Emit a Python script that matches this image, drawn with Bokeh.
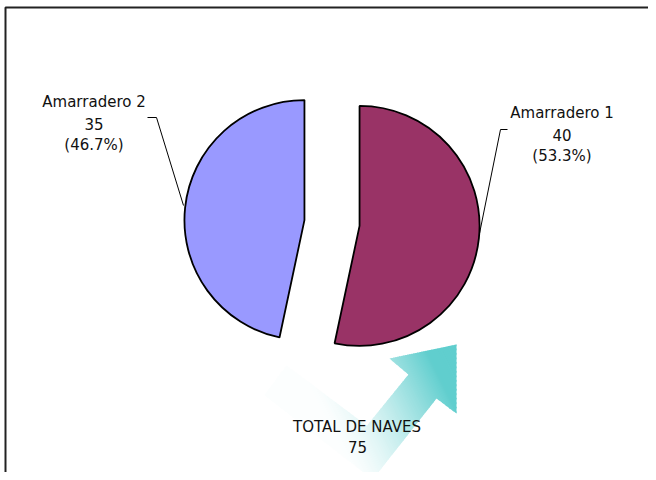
import math
from bokeh.plotting import figure
from bokeh.models import Range1d, ColumnDataSource
from bokeh.core.properties import value
from bokeh.embed import file_html
from bokeh.resources import INLINE

# ---------------- data ----------------
categories = ["Amarradero 1", "Amarradero 2"]
counts = [40, 35]
slice_colors = ["#993366", "#9999FF"]
total_title = "TOTAL DE NAVES"

# ---------------- layout (pixels of the reference picture) ----------------
W, H = 648, 472
def sy(y):
    return H - y  # picture y -> data y

PIE_CX, PIE_CY = 331.5, 222.5
PIE_R = 120
EXPLODE = 27.7
label_pos = [(561.5, 112.5), (93.5, 101.5)]     # centre x, first baseline
label_step = 21.5
leaders = [[(507, 129), (500, 129), (479, 233)],
           [(147, 117), (156, 117), (183, 205)]]
total_pos = (356.5, 426.0)

FONT = value("DejaVu Sans")
TXT = "#111111"

p = figure(width=W, height=H, x_range=Range1d(0, W), y_range=Range1d(0, H),
           output_backend="svg", toolbar_location=None, min_border=0)
p.axis.visible = False
p.grid.visible = False
p.outline_line_color = None
p.background_fill_color = "white"
p.border_fill_color = "white"

# ---------------- frame (cut at right / bottom like the reference) ----------------
p.line(x=[5, 5, W], y=[0, sy(7), sy(7)], line_color="#222222", line_width=2)

# ---------------- gradient arrow ----------------
T = (456, 344); HL = (389, 358); HR = (456, 413)
NL = (408, 374); NR = (436, 398)
ax_dir = (-0.631, 0.776)
A = (286, 365)
s = 66.0
IV = (NL[0] + ax_dir[0] * s, NL[1] + ax_dir[1] * s)
OV = (IV[0] + 5.9, IV[1] + 53.7)
Bp = (A[0] - 0.6 * 37, A[1] + 0.8 * 37)
arrow = [T, HR, NR, OV, Bp, A, IV, NL, HL]

def clip(poly, a, b, c):
    out = []
    n = len(poly)
    for i in range(n):
        P = poly[i]; Q = poly[(i + 1) % n]
        fp = a * P[0] + b * P[1] - c
        fq = a * Q[0] + b * Q[1] - c
        if fp >= 0:
            out.append(P)
        if (fp >= 0) != (fq >= 0):
            t = fp / (fp - fq)
            out.append((P[0] + t * (Q[0] - P[0]), P[1] + t * (Q[1] - P[1])))
    return out

dx, dy = 0.894, -0.447
projs = [q[0] * dx + q[1] * dy for q in arrow]
pmin, pmax = min(projs), max(projs)
teal = (96, 206, 206)
xs_list, ys_list, cols = [], [], []
step = 2.0
pv = pmin
while pv < pmax:
    poly = clip(arrow, dx, dy, pv - 0.4)
    poly = clip(poly, -dx, -dy, -(pv + step + 0.4)) if poly else poly
    if len(poly) >= 3:
        mid = pv + step / 2
        f = max(0.0, min(1.0, (mid - 105) / (225 - 105)))
        t = 0.02 + 0.98 * f ** 1.4
        c = tuple(int(round(255 - t * (255 - teal[k]))) for k in range(3))
        xs_list.append([q[0] for q in poly])
        ys_list.append([sy(q[1]) for q in poly])
        cols.append("#%02x%02x%02x" % c)
    pv += step
p.patches(xs=xs_list, ys=ys_list, fill_color=cols, line_color=None)

# ---------------- pie ----------------
total = sum(counts)
starts, ends, cxs, cys = [], [], [], []
cum = 0
for v in counts:
    end = math.radians(90 - cum * 360.0 / total)
    start = math.radians(90 - (cum + v) * 360.0 / total)
    mid = (start + end) / 2
    starts.append(start); ends.append(end)
    cxs.append(PIE_CX + EXPLODE * math.cos(mid))
    cys.append(sy(PIE_CY) + EXPLODE * math.sin(mid))
    cum += v
src = ColumnDataSource(dict(x=cxs, y=cys, s=starts, e=ends, c=slice_colors))
p.wedge(x="x", y="y", radius=PIE_R, start_angle="s", end_angle="e",
        fill_color="c", line_color="black", line_width=1.8, source=src)

# ---------------- leader lines ----------------
p.multi_line(xs=[[q[0] for q in l] for l in leaders],
             ys=[[sy(q[1]) for q in l] for l in leaders],
             line_color="black", line_width=1)

# ---------------- labels ----------------
lx, ly, lt = [], [], []
for (cx, by), name, v in zip(label_pos, categories, counts):
    lines = [name, str(v), "(%.1f%%)" % (100.0 * v / total)]
    for k, s_ in enumerate(lines):
        lx.append(cx); ly.append(sy(by + k * label_step)); lt.append(s_)
lx += [total_pos[0], total_pos[0] + 0.5]
ly += [sy(total_pos[1]), sy(total_pos[1] + 20)]
lt += [total_title, str(total)]
p.text(x=lx, y=ly, text=lt, text_font=FONT, text_font_size="15px",
       text_align="center", text_baseline="alphabetic", text_color=TXT)

open("out.html", "w").write(file_html(p, INLINE))
